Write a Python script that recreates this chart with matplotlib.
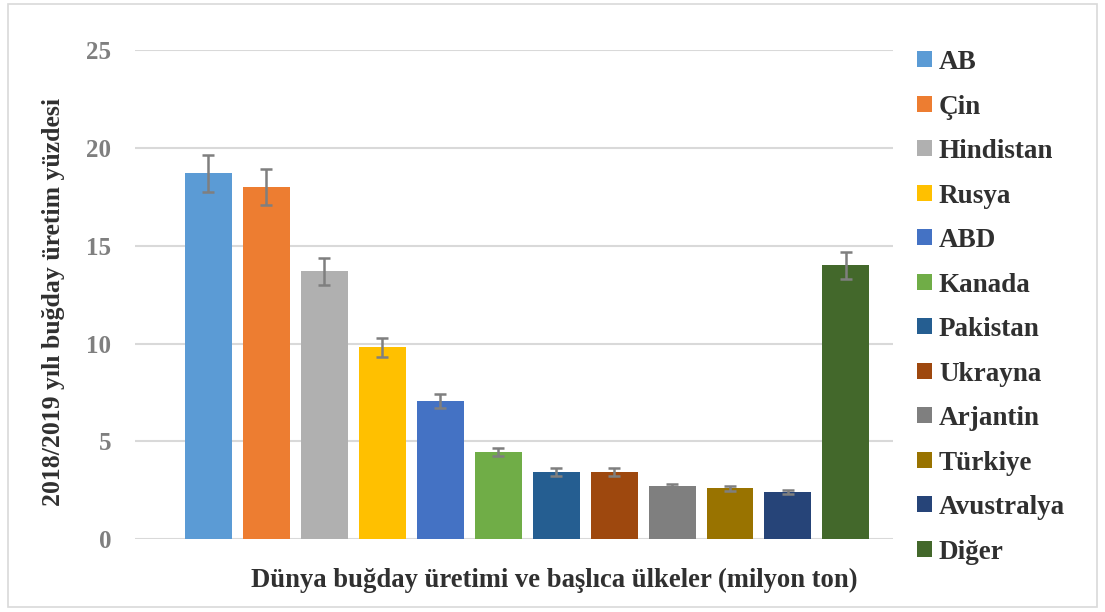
import matplotlib.pyplot as plt
from matplotlib.patches import Patch, Rectangle

plt.rcParams['font.family'] = ['Liberation Serif', 'DejaVu Serif']

ulkeler = ['AB', 'Çin', 'Hindistan', 'Rusya', 'ABD', 'Kanada', 'Pakistan',
           'Ukrayna', 'Arjantin', 'Türkiye', 'Avustralya', 'Diğer']
yuzde = [18.7, 18.0, 13.7, 9.8, 7.05, 4.45, 3.42, 3.42, 2.7, 2.6, 2.4, 14.0]
hata = [0.94, 0.9, 0.68, 0.5, 0.36, 0.22, 0.2, 0.2, 0.13, 0.13, 0.1, 0.7]
renkler = ['#5B9BD5', '#ED7D31', '#B0B0B0', '#FFC000', '#4472C4', '#70AD47',
           '#255E91', '#9E480E', '#7F7F7F', '#997300', '#264478', '#43682B']
yazi_rengi = '#303030'

fig = plt.figure(figsize=(11.05, 6.12), dpi=100)
ax = fig.add_axes([0.122, 0.119, 0.686, 0.799])

x = list(range(len(ulkeler)))
ax.bar(x, yuzde, width=0.81, color=renkler, zorder=2)
ax.errorbar(x, yuzde, yerr=hata, fmt='none', ecolor='#7F7F7F',
            elinewidth=1.8, capsize=4.5, capthick=1.8, zorder=3)

ax.set_xlim(-1.27, 11.81)
ax.set_ylim(0, 25)
ax.set_yticks([0, 5, 10, 15, 20, 25])
ax.set_xticks([])
ax.grid(axis='y', color='#D9D9D9', linewidth=1.5, zorder=0)
for s in ax.spines.values():
    s.set_visible(False)
ax.tick_params(axis='y', length=0, pad=17, labelsize=18, labelcolor='#7F7F7F')
for t in ax.get_yticklabels():
    t.set_fontweight('bold')

ax.set_ylabel('2018/2019 yılı buğday üretim yüzdesi', fontsize=18.5,
              fontweight='bold', color=yazi_rengi)
ax.yaxis.set_label_coords(-0.092, 0.485)
fig.text(0.502, 0.052, 'Dünya buğday üretimi ve başlıca ülkeler (milyon ton)',
         ha='center', va='center', fontsize=19.2, fontweight='bold', color=yazi_rengi)

handles = [Patch(facecolor=c) for c in renkler]
leg = fig.legend(handles, ulkeler, loc='upper left', bbox_to_anchor=(0.8205, 0.936),
                 frameon=False, fontsize=19.5, handlelength=0.54, handleheight=0.54,
                 handletextpad=0.25, labelspacing=0.72, borderaxespad=0)
for t in leg.get_texts():
    t.set_fontweight('bold')
    t.set_color(yazi_rengi)

fig.add_artist(Rectangle((0.007, 0.008), 0.986, 0.985, transform=fig.transFigure,
                         fill=False, edgecolor='#D9D9D9', linewidth=1.2))

fig.savefig('out.png', dpi=100)
